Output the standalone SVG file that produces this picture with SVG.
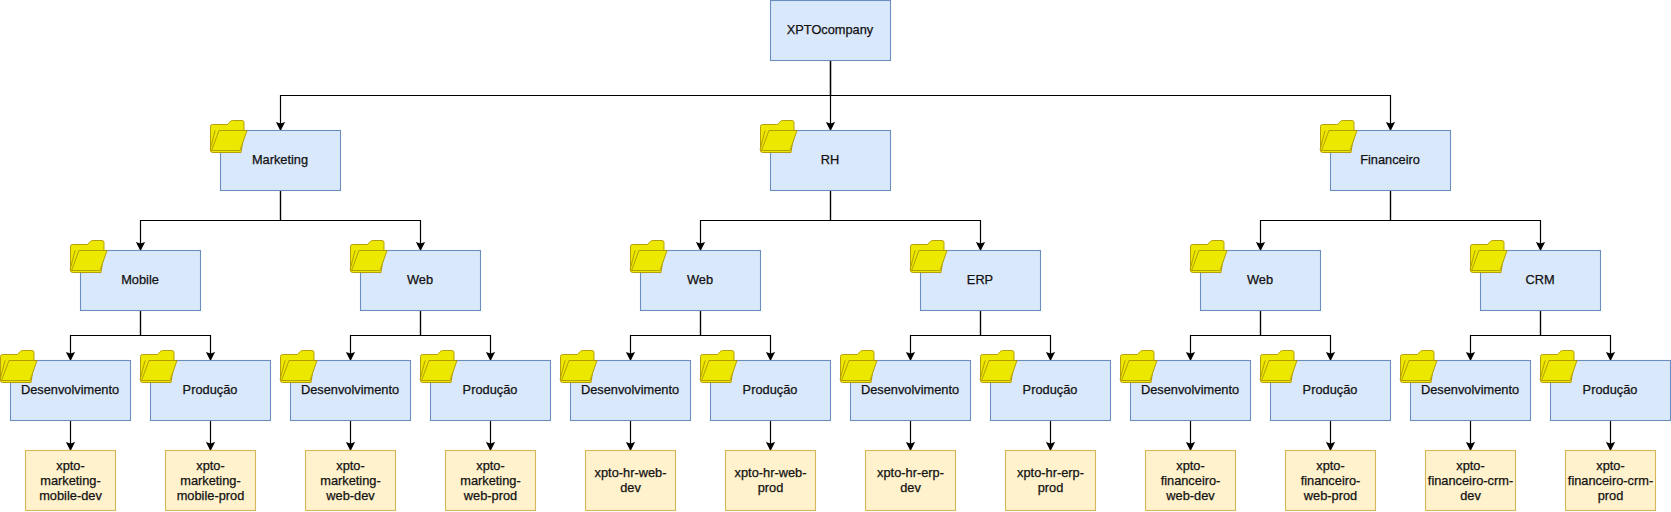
<svg xmlns="http://www.w3.org/2000/svg" xmlns:xlink="http://www.w3.org/1999/xlink" width="1671" height="512" viewBox="0 0 1671 512">
<style>
text{font-family:"Liberation Sans",Arial,sans-serif;font-size:12.8px;fill:#111;stroke:#111;stroke-width:.25;text-anchor:middle}
rect.b~text{transform:translate(-.5px,-1px)}
.b{fill:#dae8fc;stroke:#6c8ebf;stroke-width:1.1}
.l{fill:#fff2cc;stroke:#d6b656;stroke-width:1.1}
.c{fill:none;stroke:#000;stroke-width:1.2;marker-end:url(#a)}
.f{fill:#ece800;stroke:#b09500;stroke-width:.9;stroke-linejoin:round}
</style>
<defs>
<marker id="a" markerUnits="userSpaceOnUse" markerWidth="11" markerHeight="11" refX="8.5" refY="5" orient="auto" viewBox="0 0 11 10"><path d="M0 .4L9 5L0 9.6L1.6 5Z" fill="#000"/></marker>
<g id="folder">
<path class="f" d="M-10 -4q0-2 2-2h15l3-3.2q.8-.8 2-.8h9.5q2 0 2 2v10l-3 20h-28.5q-2 0-2-2z"/>
<path class="f" d="M-5 0.3h-.5l-4.8 18.2q-.3 1.5 1 1.5"/>
<path class="f" d="M-1.5 0h28l-7 20h-28.5z"/>
</g>
</defs>
<g id="connectors">
<path class="c" d="M830.5 60.5V95.5H280.5V130.5"/>
<path class="c" d="M830.5 60.5V130.5"/>
<path class="c" d="M830.5 60.5V95.5H1390.5V130.5"/>
<path class="c" d="M280.5 190.5V220.5H140.5V250.5"/>
<path class="c" d="M280.5 190.5V220.5H420.5V250.5"/>
<path class="c" d="M830.5 190.5V220.5H700.5V250.5"/>
<path class="c" d="M830.5 190.5V220.5H980.5V250.5"/>
<path class="c" d="M1390.5 190.5V220.5H1260.5V250.5"/>
<path class="c" d="M1390.5 190.5V220.5H1540.5V250.5"/>
<path class="c" d="M140.5 310.5V335.5H70.5V360.5"/>
<path class="c" d="M140.5 310.5V335.5H210.5V360.5"/>
<path class="c" d="M420.5 310.5V335.5H350.5V360.5"/>
<path class="c" d="M420.5 310.5V335.5H490.5V360.5"/>
<path class="c" d="M700.5 310.5V335.5H630.5V360.5"/>
<path class="c" d="M700.5 310.5V335.5H770.5V360.5"/>
<path class="c" d="M980.5 310.5V335.5H910.5V360.5"/>
<path class="c" d="M980.5 310.5V335.5H1050.5V360.5"/>
<path class="c" d="M1260.5 310.5V335.5H1190.5V360.5"/>
<path class="c" d="M1260.5 310.5V335.5H1330.5V360.5"/>
<path class="c" d="M1540.5 310.5V335.5H1470.5V360.5"/>
<path class="c" d="M1540.5 310.5V335.5H1610.5V360.5"/>
<path class="c" d="M70.5 420.5V450.5"/>
<path class="c" d="M210.5 420.5V450.5"/>
<path class="c" d="M350.5 420.5V450.5"/>
<path class="c" d="M490.5 420.5V450.5"/>
<path class="c" d="M630.5 420.5V450.5"/>
<path class="c" d="M770.5 420.5V450.5"/>
<path class="c" d="M910.5 420.5V450.5"/>
<path class="c" d="M1050.5 420.5V450.5"/>
<path class="c" d="M1190.5 420.5V450.5"/>
<path class="c" d="M1330.5 420.5V450.5"/>
<path class="c" d="M1470.5 420.5V450.5"/>
<path class="c" d="M1610.5 420.5V450.5"/>
</g>
<g id="root"><rect class="b" x="770.5" y="0.5" width="120" height="60"/><text x="830.5" y="34.5">XPTOcompany</text></g>
<g id="marketing"><rect class="b" x="220.5" y="130.5" width="120" height="60"/><use href="#folder" x="220.5" y="130.5"/><text x="280.5" y="164.5">Marketing</text></g>
<g id="rh"><rect class="b" x="770.5" y="130.5" width="120" height="60"/><use href="#folder" x="770.5" y="130.5"/><text x="830.5" y="164.5">RH</text></g>
<g id="financeiro"><rect class="b" x="1330.5" y="130.5" width="120" height="60"/><use href="#folder" x="1330.5" y="130.5"/><text x="1390.5" y="164.5">Financeiro</text></g>
<g id="mkt-mobile"><rect class="b" x="80.5" y="250.5" width="120" height="60"/><use href="#folder" x="80.5" y="250.5"/><text x="140.5" y="284.5">Mobile</text></g>
<g id="mkt-web"><rect class="b" x="360.5" y="250.5" width="120" height="60"/><use href="#folder" x="360.5" y="250.5"/><text x="420.5" y="284.5">Web</text></g>
<g id="hr-web"><rect class="b" x="640.5" y="250.5" width="120" height="60"/><use href="#folder" x="640.5" y="250.5"/><text x="700.5" y="284.5">Web</text></g>
<g id="hr-erp"><rect class="b" x="920.5" y="250.5" width="120" height="60"/><use href="#folder" x="920.5" y="250.5"/><text x="980.5" y="284.5">ERP</text></g>
<g id="fin-web"><rect class="b" x="1200.5" y="250.5" width="120" height="60"/><use href="#folder" x="1200.5" y="250.5"/><text x="1260.5" y="284.5">Web</text></g>
<g id="fin-crm"><rect class="b" x="1480.5" y="250.5" width="120" height="60"/><use href="#folder" x="1480.5" y="250.5"/><text x="1540.5" y="284.5">CRM</text></g>
<g id="mm-dev"><rect class="b" x="10.5" y="360.5" width="120" height="60"/><use href="#folder" x="10.5" y="360.5"/><text x="70.5" y="394.5">Desenvolvimento</text></g>
<g id="mm-prod"><rect class="b" x="150.5" y="360.5" width="120" height="60"/><use href="#folder" x="150.5" y="360.5"/><text x="210.5" y="394.5">Produção</text></g>
<g id="mw-dev"><rect class="b" x="290.5" y="360.5" width="120" height="60"/><use href="#folder" x="290.5" y="360.5"/><text x="350.5" y="394.5">Desenvolvimento</text></g>
<g id="mw-prod"><rect class="b" x="430.5" y="360.5" width="120" height="60"/><use href="#folder" x="430.5" y="360.5"/><text x="490.5" y="394.5">Produção</text></g>
<g id="hw-dev"><rect class="b" x="570.5" y="360.5" width="120" height="60"/><use href="#folder" x="570.5" y="360.5"/><text x="630.5" y="394.5">Desenvolvimento</text></g>
<g id="hw-prod"><rect class="b" x="710.5" y="360.5" width="120" height="60"/><use href="#folder" x="710.5" y="360.5"/><text x="770.5" y="394.5">Produção</text></g>
<g id="he-dev"><rect class="b" x="850.5" y="360.5" width="120" height="60"/><use href="#folder" x="850.5" y="360.5"/><text x="910.5" y="394.5">Desenvolvimento</text></g>
<g id="he-prod"><rect class="b" x="990.5" y="360.5" width="120" height="60"/><use href="#folder" x="990.5" y="360.5"/><text x="1050.5" y="394.5">Produção</text></g>
<g id="fw-dev"><rect class="b" x="1130.5" y="360.5" width="120" height="60"/><use href="#folder" x="1130.5" y="360.5"/><text x="1190.5" y="394.5">Desenvolvimento</text></g>
<g id="fw-prod"><rect class="b" x="1270.5" y="360.5" width="120" height="60"/><use href="#folder" x="1270.5" y="360.5"/><text x="1330.5" y="394.5">Produção</text></g>
<g id="fc-dev"><rect class="b" x="1410.5" y="360.5" width="120" height="60"/><use href="#folder" x="1410.5" y="360.5"/><text x="1470.5" y="394.5">Desenvolvimento</text></g>
<g id="fc-prod"><rect class="b" x="1550.5" y="360.5" width="120" height="60"/><use href="#folder" x="1550.5" y="360.5"/><text x="1610.5" y="394.5">Produção</text></g>
<g id="leaf-mm-dev"><rect class="l" x="25.5" y="450.5" width="90" height="60"/><text><tspan x="70.5" y="470">xpto-</tspan><tspan x="70.5" y="485">marketing-</tspan><tspan x="70.5" y="500">mobile-dev</tspan></text></g>
<g id="leaf-mm-prod"><rect class="l" x="165.5" y="450.5" width="90" height="60"/><text><tspan x="210.5" y="470">xpto-</tspan><tspan x="210.5" y="485">marketing-</tspan><tspan x="210.5" y="500">mobile-prod</tspan></text></g>
<g id="leaf-mw-dev"><rect class="l" x="305.5" y="450.5" width="90" height="60"/><text><tspan x="350.5" y="470">xpto-</tspan><tspan x="350.5" y="485">marketing-</tspan><tspan x="350.5" y="500">web-dev</tspan></text></g>
<g id="leaf-mw-prod"><rect class="l" x="445.5" y="450.5" width="90" height="60"/><text><tspan x="490.5" y="470">xpto-</tspan><tspan x="490.5" y="485">marketing-</tspan><tspan x="490.5" y="500">web-prod</tspan></text></g>
<g id="leaf-hw-dev"><rect class="l" x="585.5" y="450.5" width="90" height="60"/><text><tspan x="630.5" y="477">xpto-hr-web-</tspan><tspan x="630.5" y="492">dev</tspan></text></g>
<g id="leaf-hw-prod"><rect class="l" x="725.5" y="450.5" width="90" height="60"/><text><tspan x="770.5" y="477">xpto-hr-web-</tspan><tspan x="770.5" y="492">prod</tspan></text></g>
<g id="leaf-he-dev"><rect class="l" x="865.5" y="450.5" width="90" height="60"/><text><tspan x="910.5" y="477">xpto-hr-erp-</tspan><tspan x="910.5" y="492">dev</tspan></text></g>
<g id="leaf-he-prod"><rect class="l" x="1005.5" y="450.5" width="90" height="60"/><text><tspan x="1050.5" y="477">xpto-hr-erp-</tspan><tspan x="1050.5" y="492">prod</tspan></text></g>
<g id="leaf-fw-dev"><rect class="l" x="1145.5" y="450.5" width="90" height="60"/><text><tspan x="1190.5" y="470">xpto-</tspan><tspan x="1190.5" y="485">financeiro-</tspan><tspan x="1190.5" y="500">web-dev</tspan></text></g>
<g id="leaf-fw-prod"><rect class="l" x="1285.5" y="450.5" width="90" height="60"/><text><tspan x="1330.5" y="470">xpto-</tspan><tspan x="1330.5" y="485">financeiro-</tspan><tspan x="1330.5" y="500">web-prod</tspan></text></g>
<g id="leaf-fc-dev"><rect class="l" x="1425.5" y="450.5" width="90" height="60"/><text><tspan x="1470.5" y="470">xpto-</tspan><tspan x="1470.5" y="485">financeiro-crm-</tspan><tspan x="1470.5" y="500">dev</tspan></text></g>
<g id="leaf-fc-prod"><rect class="l" x="1565.5" y="450.5" width="90" height="60"/><text><tspan x="1610.5" y="470">xpto-</tspan><tspan x="1610.5" y="485">financeiro-crm-</tspan><tspan x="1610.5" y="500">prod</tspan></text></g>
</svg>
